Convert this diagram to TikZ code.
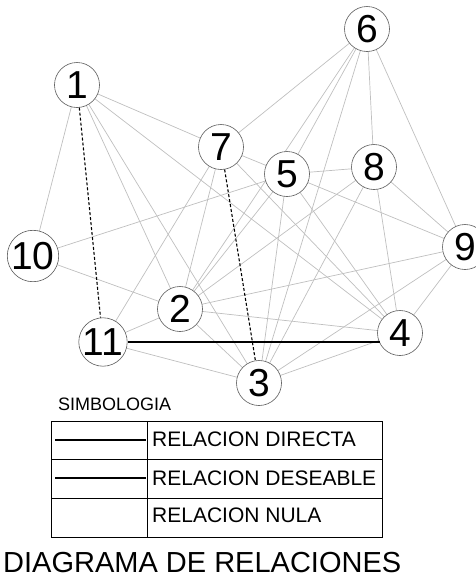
\documentclass[tikz,border=0pt]{standalone}
\usepackage{fontspec}
\setmainfont{Liberation Sans}
\usetikzlibrary{backgrounds,calc}
\begin{document}
\begin{tikzpicture}[x=1pt,y=-1pt,
  nd/.style={circle,draw=black!65,line width=0.6pt,fill=white,minimum size=45pt,inner sep=0pt,font=\fontsize{39}{39}\selectfont},
  rel/.style={draw=black!25,line width=0.7pt},
  dsh/.style={draw=black,line width=1.1pt,dash pattern=on 3pt off 2pt},
  sol/.style={draw=black,line width=1.2pt},
  lg/.style={font=\fontsize{21}{21}\selectfont,anchor=base west,inner sep=0pt},
  tb/.style={draw=black,line width=1pt}]
\useasboundingbox (0,0) rectangle (476,579);
\node[nd] (n1) at (77,85) {1};
\node[nd] (n6) at (367,29) {6};
\node[nd] (n7) at (221,147) {7};
\node[nd] (n5) at (287,174) {5};
\node[nd] (n8) at (374,167) {8};
\node[nd] (n10) at (33,256) {10};
\node[nd] (n9) at (465,247) {9};
\node[nd] (n2) at (180,309) {2};
\node[nd] (n11) at (103,342) {11};
\node[nd] (n4) at (400,333) {4};
\node[nd] (n3) at (259,383) {3};
\begin{pgfonlayer}{background}
\foreach \a/\b in {1/7,1/4,1/3,1/2,1/10,6/7,6/2,6/5,6/3,6/8,6/9,7/5,7/4,7/2,7/11,10/5,5/8,5/9,5/4,5/2,5/3,8/9,8/4,8/3,8/2,9/2,9/3,9/4,10/2,11/2,11/3,2/4,2/3,3/4}
  \draw[rel] (n\a.center) -- (n\b.center);
\end{pgfonlayer}
\draw[dsh] (n1) -- (n11);
\draw[dsh] (n7) -- (n3);
\coordinate (e4) at ($(n4.center)+(-20,10)$);
\draw[sol] (n11.east) -- (n11.east -| e4);
% legend
\node[font=\fontsize{18}{18}\selectfont,anchor=base west,inner sep=0pt] (simb) at (58,410) {SIMBOLOGIA};
\coordinate (t1) at (51,421);
\coordinate (t2) at (382,537);
\draw[tb] (t1) rectangle (t2);
\coordinate (v1) at (147,421);
\coordinate (v2) at (147,537);
\draw[tb] (v1) -- (v2);
\coordinate (h1a) at (51,459);
\coordinate (h1b) at (382,459);
\coordinate (h2a) at (51,498);
\coordinate (h2b) at (382,498);
\draw[tb] (h1a) -- (h1b);
\draw[tb] (h2a) -- (h2b);
\coordinate (l1a) at (55,440);
\coordinate (l1b) at (146,440);
\coordinate (l2a) at (55,478);
\coordinate (l2b) at (146,478);
\draw[sol] (l1a) -- (l1b);
\draw[sol] (l2a) -- (l2b);
\node[lg] (r1) at (152,446) {RELACION DIRECTA};
\node[lg] (r2) at (152,485) {RELACION DESEABLE};
\node[lg] (r3) at (152,522) {RELACION NULA};
\node[font=\fontsize{29}{29}\selectfont,anchor=base west,inner sep=0pt] (title) at (3,572) {DIAGRAMA DE RELACIONES};
\end{tikzpicture}
\end{document}
